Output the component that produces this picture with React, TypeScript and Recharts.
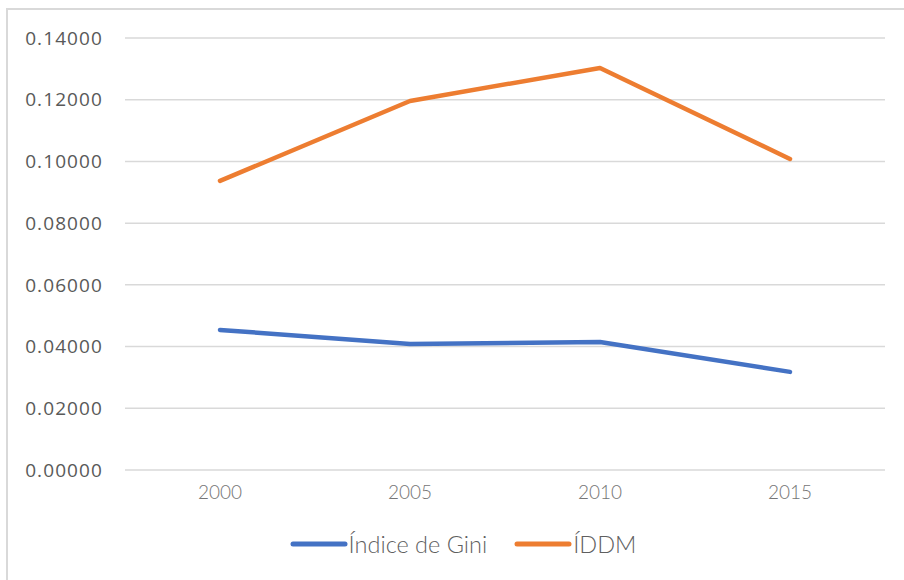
import React from "react";
import { CartesianGrid, Legend, Line, LineChart, XAxis, YAxis } from "recharts";

const years = ["2000", "2005", "2010", "2015"];
const gini = [0.0454, 0.0408, 0.0415, 0.0318];
const iddm = [0.0937, 0.1196, 0.1303, 0.1008];
const yTicks = [0, 0.02, 0.04, 0.06, 0.08, 0.1, 0.12, 0.14];

const SERIES = [
  { key: "gini", name: "Índice de Gini", color: "#4472C4" },
  { key: "iddm", name: "ÍDDM", color: "#ED7D31" },
];

const data = years.map((y, i) => ({ year: y, gini: gini[i], iddm: iddm[i] }));

function LegendRow() {
  return (
    <div style={{ display: "flex", justifyContent: "center", alignItems: "center", gap: 27, paddingLeft: 22 }}>
      {SERIES.map(s => (
        <div key={s.key} style={{ display: "flex", alignItems: "center" }}>
          <svg width={58} height={10}>
            <line x1={3} y1={5} x2={55} y2={5} stroke={s.color} strokeWidth={5} strokeLinecap="round" />
          </svg>
          <span style={{ fontFamily: "Lato", fontWeight: 300, fontSize: 23.5, color: "#5f5f5f", marginLeft: 1 }}>
            {s.name}
          </span>
        </div>
      ))}
    </div>
  );
}

export default function App() {
  return (
    <div style={{ position: "absolute", left: 0, top: 0, width: 904, height: 580, overflow: "hidden", background: "#fff" }}>
      <div
        style={{
          position: "absolute",
          left: 6,
          top: 8,
          width: 1000,
          height: 1000,
          border: "2px solid #d9d9d9",
        }}
      />
      <div style={{ position: "absolute", left: 0, top: 0 }}>
        <LineChart width={904} height={580} data={data} margin={{ top: 38, right: 19, bottom: 70, left: 15 }}>
          <CartesianGrid vertical={false} stroke="#d9d9d9" strokeWidth={1.5} />
          <XAxis
            dataKey="year"
            axisLine={false}
            tickLine={false}
            tickSize={0}
            tickMargin={16}
            height={40}
            padding={{ left: 95, right: 95 }}
            tick={{ fill: "#757575", fontSize: 19, fontFamily: "Lato", fontWeight: 300 }}
          />
          <YAxis
            domain={[0, 0.14]}
            ticks={yTicks}
            width={110}
            axisLine={false}
            tickLine={false}
            tickSize={0}
            tickMargin={22}
            tickFormatter={(v: number) => v.toFixed(5)}
            tick={{ fill: "#595959", fontSize: 19, fontFamily: "Open Sans", letterSpacing: 1.1 }}
          />
          <Legend
            layout="horizontal"
            verticalAlign="middle"
            wrapperStyle={{ top: 530, left: 0, width: 904 }}
            content={() => <LegendRow />}
          />
          {SERIES.map(s => (
            <Line
              key={s.key}
              dataKey={s.key}
              name={s.name}
              stroke={s.color}
              strokeWidth={4.5}
              strokeLinecap="round"
              strokeLinejoin="round"
              dot={false}
              activeDot={false}
              isAnimationActive={false}
            />
          ))}
        </LineChart>
      </div>
    </div>
  );
}
